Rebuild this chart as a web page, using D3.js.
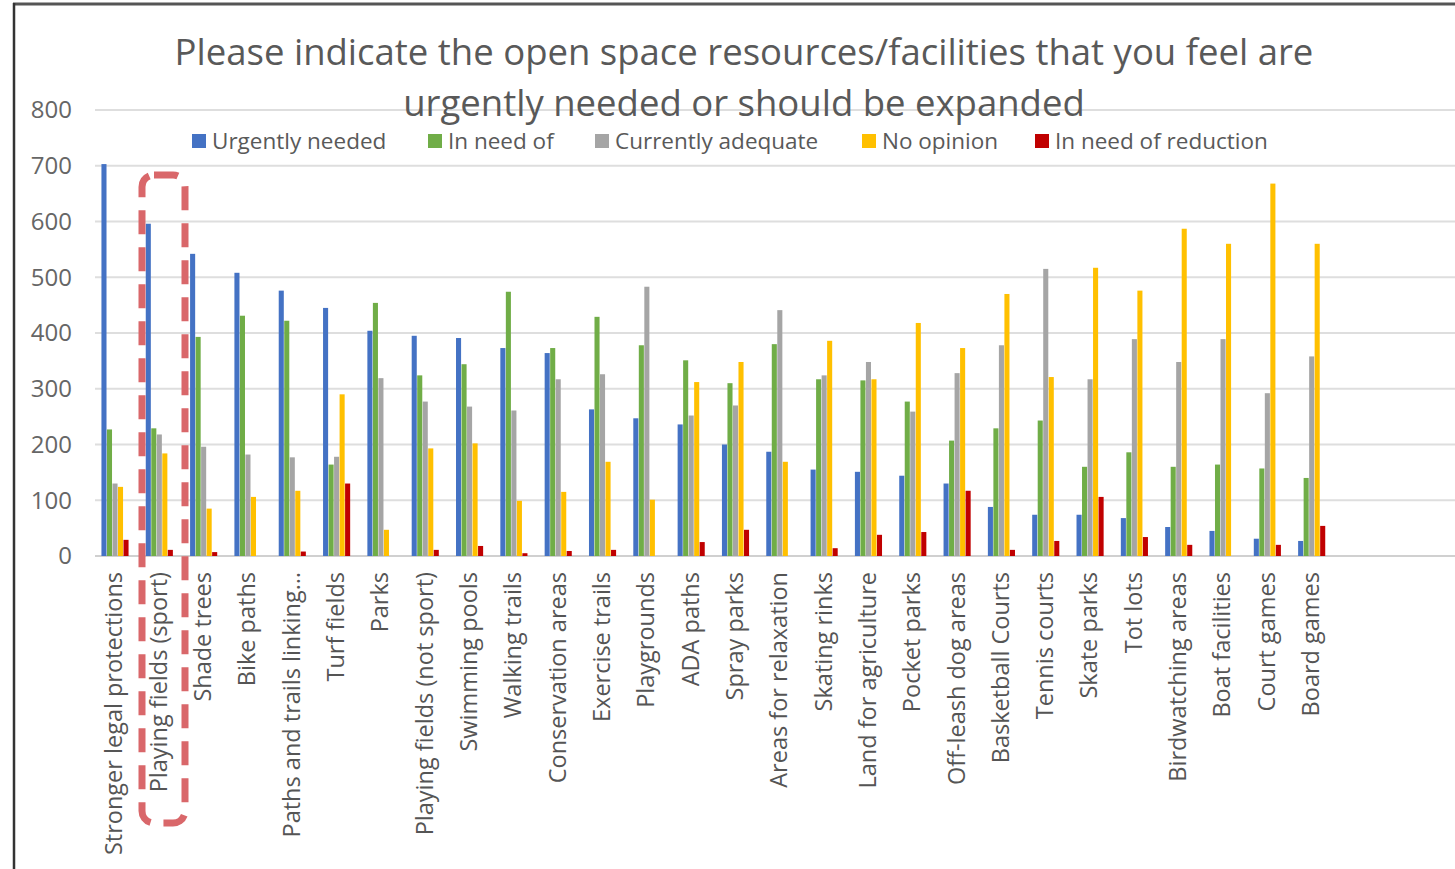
<!DOCTYPE html>
<html>
<head>
<meta charset="utf-8">
<script src="https://cdn.jsdelivr.net/npm/d3@7"></script>
<style>
  html, body { margin: 0; padding: 0; background: #fff; }
  svg { display: block; font-family: "Open Sans", "Noto Sans", sans-serif; }
</style>
</head>
<body>
<script>
// categories along the x axis
const categories = [
  "Stronger legal protections", "Playing fields (sport)", "Shade trees", "Bike paths",
  "Paths and trails linking…", "Turf fields", "Parks", "Playing fields (not sport)",
  "Swimming pools", "Walking trails", "Conservation areas", "Exercise trails",
  "Playgrounds", "ADA paths", "Spray parks", "Areas for relaxation", "Skating rinks",
  "Land for agriculture", "Pocket parks", "Off-leash dog areas", "Basketball Courts",
  "Tennis courts", "Skate parks", "Tot lots", "Birdwatching areas", "Boat facilities",
  "Court games", "Board games"
];

const seriesNames = ["Urgently needed", "In need of", "Currently adequate", "No opinion", "In need of reduction"];
const seriesColors = ["#4472c4", "#70ad47", "#a5a5a5", "#ffc000", "#c00000"];

// values
const urgentlyNeeded = [703, 596, 542, 508, 476, 445, 404, 395, 391, 373, 364, 263, 247, 236, 200, 187, 155, 151, 144, 130, 88, 74, 74, 68, 52, 45, 31, 27];
const inNeedOf       = [227, 229, 393, 431, 422, 164, 454, 324, 344, 474, 373, 429, 378, 351, 310, 380, 317, 315, 277, 207, 229, 243, 160, 186, 160, 164, 157, 140];
const currentlyAdequate = [130, 218, 196, 182, 177, 178, 319, 277, 268, 261, 317, 326, 483, 252, 270, 441, 324, 348, 259, 328, 378, 515, 317, 389, 348, 389, 292, 358];
const noOpinion      = [124, 184, 85, 106, 117, 290, 47, 193, 202, 99, 115, 169, 101, 312, 348, 169, 386, 317, 418, 373, 470, 321, 517, 476, 587, 560, 668, 560];
const inNeedOfReduction = [29, 11, 7, 0, 8, 130, 0, 11, 18, 5, 9, 11, 0, 25, 47, 0, 14, 38, 43, 117, 11, 27, 106, 34, 20, 0, 20, 54];

const yTicks = [0, 100, 200, 300, 400, 500, 600, 700, 800];

const series = [urgentlyNeeded, inNeedOf, currentlyAdequate, noOpinion, inNeedOfReduction];

const W = 1455, H = 869;
const svg = d3.select("body").append("svg").attr("width", W).attr("height", H);

// frame of the screenshot
svg.append("rect").attr("x", 0).attr("y", 0).attr("width", W).attr("height", H).attr("fill", "#fff");
svg.append("line").attr("x1", 13).attr("x2", W).attr("y1", 4).attr("y2", 4)
  .attr("stroke", "#555").attr("stroke-width", 3);
svg.append("line").attr("x1", 14).attr("x2", 14).attr("y1", 3).attr("y2", H)
  .attr("stroke", "#333").attr("stroke-width", 2.5);

const y = d3.scaleLinear().domain([0, 800]).range([556, 110]);
const x = d3.scaleBand().domain(categories).range([93, 1334]).padding(0);
const xs = d3.scaleBand().domain(d3.range(seriesNames.length)).range([8, 36]).padding(0.08);

// gridlines
svg.append("g").selectAll("line").data(yTicks).join("line")
  .attr("x1", 95).attr("x2", W)
  .attr("y1", d => y(d)).attr("y2", d => y(d))
  .attr("stroke", d => d === 0 ? "#d0d0d0" : "#dedede").attr("stroke-width", 2);

// y axis labels
svg.append("g").selectAll("text").data(yTicks).join("text")
  .attr("x", 72).attr("y", d => y(d)).attr("dy", "0.35em")
  .attr("text-anchor", "end").attr("fill", "#666").style("font-size", "24px")
  .text(d => d);

// bars
const groups = svg.append("g").selectAll("g").data(categories).join("g")
  .attr("transform", d => `translate(${x(d)},0)`);
groups.selectAll("rect").data((d, i) => series.map((s, k) => ({ k: k, v: s[i] }))).join("rect")
  .attr("x", d => xs(d.k)).attr("width", xs.bandwidth())
  .attr("y", d => y(d.v)).attr("height", d => y(0) - y(d.v))
  .attr("fill", d => seriesColors[d.k]);

// category labels
svg.append("g").selectAll("text").data(categories).join("text")
  .attr("transform", d => `translate(${x(d) + x.bandwidth() / 2 - 1},572) rotate(-90)`)
  .attr("text-anchor", "end").attr("dy", "0.35em")
  .attr("fill", "#555").style("font-size", "23.5px")
  .text(d => d);

// title
const title = svg.append("text").attr("text-anchor", "middle").attr("fill", "#595959")
  .style("font-size", "36.5px");
title.append("tspan").attr("x", 744).attr("y", 65)
  .text("Please indicate the open space resources/facilities that you feel are");
title.append("tspan").attr("x", 744).attr("y", 116)
  .text("urgently needed or should be expanded");

// legend
const legendX = [192, 428, 595, 862, 1035];
const legend = svg.append("g").selectAll("g").data(seriesNames).join("g")
  .attr("transform", (d, i) => `translate(${legendX[i]},141)`);
legend.append("rect").attr("x", 0).attr("y", -7).attr("width", 14).attr("height", 14)
  .attr("fill", (d, i) => seriesColors[i]);
legend.append("text").attr("x", 20).attr("dy", "0.35em").attr("fill", "#595959")
  .style("font-size", "22.5px").text(d => d);

// red dashed highlight around "Playing fields (sport)"
svg.append("rect").attr("x", 142).attr("y", 175).attr("width", 43).attr("height", 648)
  .attr("rx", 12).attr("fill", "none")
  .attr("stroke", "#d9676a").attr("stroke-width", 7)
  .attr("stroke-dasharray", "24,13");
</script>
</body>
</html>
